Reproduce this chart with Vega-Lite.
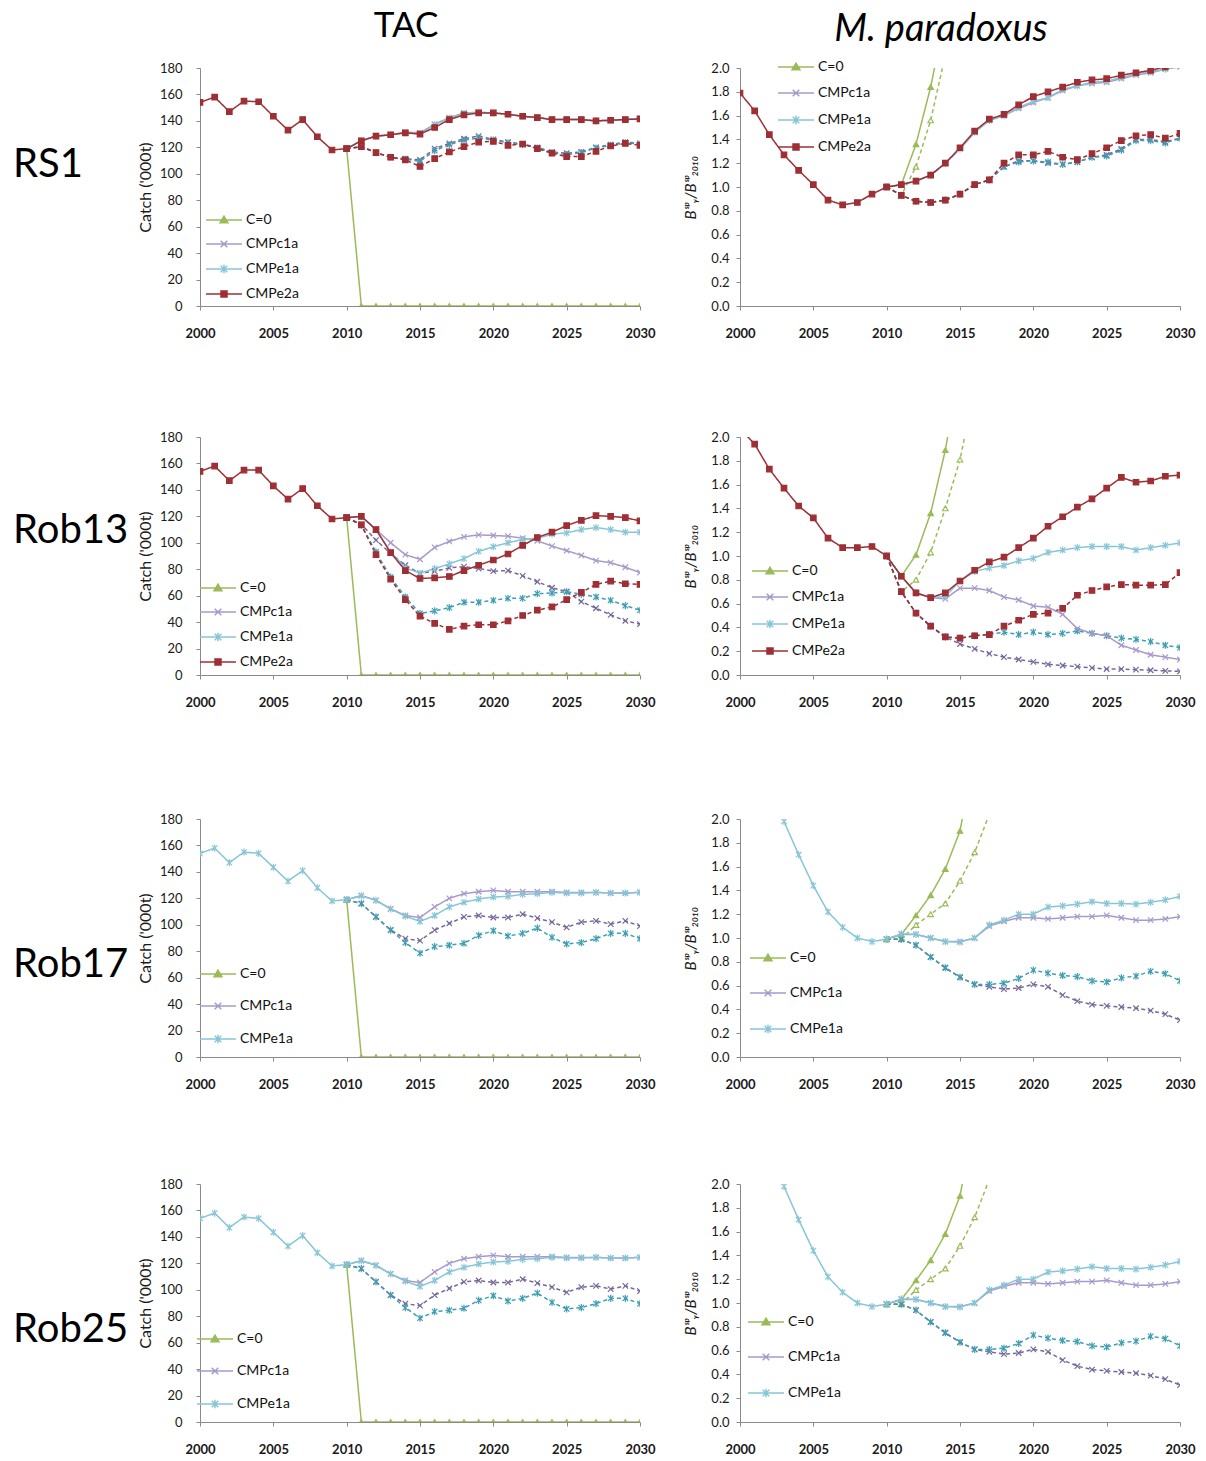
{
"$schema": "https://vega.github.io/schema/vega-lite/v6.json",
"background": "white",
"padding": {"left": 10, "top": 9, "right": 5, "bottom": 5},
"config": {
  "view": {"stroke": null},
  "font": "Lato",
  "axis": {"grid": false, "domainColor": "#8a8a8a", "tickColor": "#8a8a8a", "tickSize": 4, "labelFont": "Lato", "labelFontSize": 13, "labelColor": "#1a1a1a", "labelFlush": false, "titleFont": "Lato", "titleFontSize": 16, "titleFontWeight": "normal", "titleColor": "#1a1a1a", "titlePadding": 6},
  "axisX": {"labelFontWeight": "bold", "labelPadding": 17},
  "legend": {"labelFont": "Lato", "labelFontSize": 14, "labelColor": "#111111", "padding": 0, "symbolSize": 144, "symbolStrokeWidth": 1.5, "symbolOpacity": 1, "labelOffset": 27},
  "title": {"font": "Lato", "fontSize": 35, "fontWeight": "normal", "color": "#000000"}
},
"datasets": {
"tac_rs1": [
{"series":"C=0","year":2010,"value":119},{"series":"C=0","year":2011,"value":0},{"series":"C=0","year":2012,"value":0},{"series":"C=0","year":2013,"value":0},{"series":"C=0","year":2014,"value":0},{"series":"C=0","year":2015,"value":0},{"series":"C=0","year":2016,"value":0},{"series":"C=0","year":2017,"value":0},{"series":"C=0","year":2018,"value":0},{"series":"C=0","year":2019,"value":0},{"series":"C=0","year":2020,"value":0},{"series":"C=0","year":2021,"value":0},{"series":"C=0","year":2022,"value":0},{"series":"C=0","year":2023,"value":0},{"series":"C=0","year":2024,"value":0},{"series":"C=0","year":2025,"value":0},{"series":"C=0","year":2026,"value":0},{"series":"C=0","year":2027,"value":0},{"series":"C=0","year":2028,"value":0},{"series":"C=0","year":2029,"value":0},{"series":"C=0","year":2030,"value":0},
{"series":"CMPc1a low","year":2010,"value":119},{"series":"CMPc1a low","year":2011,"value":120.5},{"series":"CMPc1a low","year":2012,"value":116},{"series":"CMPc1a low","year":2013,"value":112.5},{"series":"CMPc1a low","year":2014,"value":111.5},{"series":"CMPc1a low","year":2015,"value":110.5},{"series":"CMPc1a low","year":2016,"value":119},{"series":"CMPc1a low","year":2017,"value":123},{"series":"CMPc1a low","year":2018,"value":126.5},{"series":"CMPc1a low","year":2019,"value":128.5},{"series":"CMPc1a low","year":2020,"value":126},{"series":"CMPc1a low","year":2021,"value":124},{"series":"CMPc1a low","year":2022,"value":122.5},{"series":"CMPc1a low","year":2023,"value":120},{"series":"CMPc1a low","year":2024,"value":116.5},{"series":"CMPc1a low","year":2025,"value":115.5},{"series":"CMPc1a low","year":2026,"value":116.5},{"series":"CMPc1a low","year":2027,"value":120},{"series":"CMPc1a low","year":2028,"value":122},{"series":"CMPc1a low","year":2029,"value":124},{"series":"CMPc1a low","year":2030,"value":123},
{"series":"CMPe1a low","year":2010,"value":119},{"series":"CMPe1a low","year":2011,"value":120.5},{"series":"CMPe1a low","year":2012,"value":116},{"series":"CMPe1a low","year":2013,"value":112.5},{"series":"CMPe1a low","year":2014,"value":111},{"series":"CMPe1a low","year":2015,"value":109.5},{"series":"CMPe1a low","year":2016,"value":117.5},{"series":"CMPe1a low","year":2017,"value":122},{"series":"CMPe1a low","year":2018,"value":125.5},{"series":"CMPe1a low","year":2019,"value":127},{"series":"CMPe1a low","year":2020,"value":125.5},{"series":"CMPe1a low","year":2021,"value":123.5},{"series":"CMPe1a low","year":2022,"value":122},{"series":"CMPe1a low","year":2023,"value":119.5},{"series":"CMPe1a low","year":2024,"value":116},{"series":"CMPe1a low","year":2025,"value":114.5},{"series":"CMPe1a low","year":2026,"value":116},{"series":"CMPe1a low","year":2027,"value":119.5},{"series":"CMPe1a low","year":2028,"value":121.5},{"series":"CMPe1a low","year":2029,"value":123.5},{"series":"CMPe1a low","year":2030,"value":122.5},
{"series":"CMPe2a low","year":2010,"value":119},{"series":"CMPe2a low","year":2011,"value":120.5},{"series":"CMPe2a low","year":2012,"value":116},{"series":"CMPe2a low","year":2013,"value":112.5},{"series":"CMPe2a low","year":2014,"value":110.5},{"series":"CMPe2a low","year":2015,"value":105.5},{"series":"CMPe2a low","year":2016,"value":111.5},{"series":"CMPe2a low","year":2017,"value":116.5},{"series":"CMPe2a low","year":2018,"value":120.5},{"series":"CMPe2a low","year":2019,"value":124},{"series":"CMPe2a low","year":2020,"value":124.5},{"series":"CMPe2a low","year":2021,"value":121.5},{"series":"CMPe2a low","year":2022,"value":122.5},{"series":"CMPe2a low","year":2023,"value":119},{"series":"CMPe2a low","year":2024,"value":115.5},{"series":"CMPe2a low","year":2025,"value":113},{"series":"CMPe2a low","year":2026,"value":113},{"series":"CMPe2a low","year":2027,"value":117},{"series":"CMPe2a low","year":2028,"value":121},{"series":"CMPe2a low","year":2029,"value":123},{"series":"CMPe2a low","year":2030,"value":121.5},
{"series":"CMPc1a","year":2010,"value":119},{"series":"CMPc1a","year":2011,"value":125},{"series":"CMPc1a","year":2012,"value":128.5},{"series":"CMPc1a","year":2013,"value":129.5},{"series":"CMPc1a","year":2014,"value":131.5},{"series":"CMPc1a","year":2015,"value":131},{"series":"CMPc1a","year":2016,"value":137.5},{"series":"CMPc1a","year":2017,"value":142.5},{"series":"CMPc1a","year":2018,"value":146},{"series":"CMPc1a","year":2019,"value":146.5},{"series":"CMPc1a","year":2020,"value":146},{"series":"CMPc1a","year":2021,"value":145},{"series":"CMPc1a","year":2022,"value":143.5},{"series":"CMPc1a","year":2023,"value":142.5},{"series":"CMPc1a","year":2024,"value":141},{"series":"CMPc1a","year":2025,"value":141},{"series":"CMPc1a","year":2026,"value":141},{"series":"CMPc1a","year":2027,"value":140},{"series":"CMPc1a","year":2028,"value":140.5},{"series":"CMPc1a","year":2029,"value":141},{"series":"CMPc1a","year":2030,"value":141.5},
{"series":"CMPe1a","year":2010,"value":119},{"series":"CMPe1a","year":2011,"value":125},{"series":"CMPe1a","year":2012,"value":128.5},{"series":"CMPe1a","year":2013,"value":129.5},{"series":"CMPe1a","year":2014,"value":131},{"series":"CMPe1a","year":2015,"value":130.5},{"series":"CMPe1a","year":2016,"value":137},{"series":"CMPe1a","year":2017,"value":142},{"series":"CMPe1a","year":2018,"value":145.5},{"series":"CMPe1a","year":2019,"value":146.5},{"series":"CMPe1a","year":2020,"value":146},{"series":"CMPe1a","year":2021,"value":145},{"series":"CMPe1a","year":2022,"value":143.5},{"series":"CMPe1a","year":2023,"value":142.5},{"series":"CMPe1a","year":2024,"value":141},{"series":"CMPe1a","year":2025,"value":141},{"series":"CMPe1a","year":2026,"value":141},{"series":"CMPe1a","year":2027,"value":140},{"series":"CMPe1a","year":2028,"value":140.5},{"series":"CMPe1a","year":2029,"value":141},{"series":"CMPe1a","year":2030,"value":141.5},
{"series":"CMPe2a","year":2000,"value":154},{"series":"CMPe2a","year":2001,"value":158},{"series":"CMPe2a","year":2002,"value":147},{"series":"CMPe2a","year":2003,"value":155},{"series":"CMPe2a","year":2004,"value":154.5},{"series":"CMPe2a","year":2005,"value":143.5},{"series":"CMPe2a","year":2006,"value":133},{"series":"CMPe2a","year":2007,"value":141},{"series":"CMPe2a","year":2008,"value":128},{"series":"CMPe2a","year":2009,"value":118},{"series":"CMPe2a","year":2010,"value":119},{"series":"CMPe2a","year":2011,"value":125},{"series":"CMPe2a","year":2012,"value":128.5},{"series":"CMPe2a","year":2013,"value":129.5},{"series":"CMPe2a","year":2014,"value":131},{"series":"CMPe2a","year":2015,"value":130},{"series":"CMPe2a","year":2016,"value":135},{"series":"CMPe2a","year":2017,"value":141},{"series":"CMPe2a","year":2018,"value":144.5},{"series":"CMPe2a","year":2019,"value":146},{"series":"CMPe2a","year":2020,"value":146},{"series":"CMPe2a","year":2021,"value":145},{"series":"CMPe2a","year":2022,"value":143.5},{"series":"CMPe2a","year":2023,"value":142.5},{"series":"CMPe2a","year":2024,"value":141},{"series":"CMPe2a","year":2025,"value":141},{"series":"CMPe2a","year":2026,"value":141},{"series":"CMPe2a","year":2027,"value":140},{"series":"CMPe2a","year":2028,"value":140.5},{"series":"CMPe2a","year":2029,"value":141},{"series":"CMPe2a","year":2030,"value":141.5}
],
"bsp_rs1": [
{"series":"C=0","year":2010,"value":1.00},{"series":"C=0","year":2011,"value":1.02},{"series":"C=0","year":2012,"value":1.36},{"series":"C=0","year":2013,"value":1.84},{"series":"C=0","year":2014,"value":2.45},
{"series":"C=0 low","year":2010,"value":1.00},{"series":"C=0 low","year":2011,"value":0.93},{"series":"C=0 low","year":2012,"value":1.17},{"series":"C=0 low","year":2013,"value":1.56},{"series":"C=0 low","year":2014,"value":2.11},
{"series":"CMPc1a low","year":2010,"value":1.00},{"series":"CMPc1a low","year":2011,"value":0.93},{"series":"CMPc1a low","year":2012,"value":0.88},{"series":"CMPc1a low","year":2013,"value":0.87},{"series":"CMPc1a low","year":2014,"value":0.89},{"series":"CMPc1a low","year":2015,"value":0.94},{"series":"CMPc1a low","year":2016,"value":1.02},{"series":"CMPc1a low","year":2017,"value":1.06},{"series":"CMPc1a low","year":2018,"value":1.17},{"series":"CMPc1a low","year":2019,"value":1.22},{"series":"CMPc1a low","year":2020,"value":1.22},{"series":"CMPc1a low","year":2021,"value":1.20},{"series":"CMPc1a low","year":2022,"value":1.19},{"series":"CMPc1a low","year":2023,"value":1.21},{"series":"CMPc1a low","year":2024,"value":1.25},{"series":"CMPc1a low","year":2025,"value":1.27},{"series":"CMPc1a low","year":2026,"value":1.32},{"series":"CMPc1a low","year":2027,"value":1.40},{"series":"CMPc1a low","year":2028,"value":1.40},{"series":"CMPc1a low","year":2029,"value":1.38},{"series":"CMPc1a low","year":2030,"value":1.41},
{"series":"CMPe1a low","year":2010,"value":1.00},{"series":"CMPe1a low","year":2011,"value":0.93},{"series":"CMPe1a low","year":2012,"value":0.88},{"series":"CMPe1a low","year":2013,"value":0.87},{"series":"CMPe1a low","year":2014,"value":0.89},{"series":"CMPe1a low","year":2015,"value":0.94},{"series":"CMPe1a low","year":2016,"value":1.02},{"series":"CMPe1a low","year":2017,"value":1.06},{"series":"CMPe1a low","year":2018,"value":1.17},{"series":"CMPe1a low","year":2019,"value":1.21},{"series":"CMPe1a low","year":2020,"value":1.22},{"series":"CMPe1a low","year":2021,"value":1.21},{"series":"CMPe1a low","year":2022,"value":1.19},{"series":"CMPe1a low","year":2023,"value":1.21},{"series":"CMPe1a low","year":2024,"value":1.25},{"series":"CMPe1a low","year":2025,"value":1.26},{"series":"CMPe1a low","year":2026,"value":1.31},{"series":"CMPe1a low","year":2027,"value":1.39},{"series":"CMPe1a low","year":2028,"value":1.39},{"series":"CMPe1a low","year":2029,"value":1.37},{"series":"CMPe1a low","year":2030,"value":1.41},
{"series":"CMPe2a low","year":2010,"value":1.00},{"series":"CMPe2a low","year":2011,"value":0.93},{"series":"CMPe2a low","year":2012,"value":0.88},{"series":"CMPe2a low","year":2013,"value":0.87},{"series":"CMPe2a low","year":2014,"value":0.89},{"series":"CMPe2a low","year":2015,"value":0.94},{"series":"CMPe2a low","year":2016,"value":1.02},{"series":"CMPe2a low","year":2017,"value":1.06},{"series":"CMPe2a low","year":2018,"value":1.20},{"series":"CMPe2a low","year":2019,"value":1.27},{"series":"CMPe2a low","year":2020,"value":1.27},{"series":"CMPe2a low","year":2021,"value":1.30},{"series":"CMPe2a low","year":2022,"value":1.25},{"series":"CMPe2a low","year":2023,"value":1.23},{"series":"CMPe2a low","year":2024,"value":1.28},{"series":"CMPe2a low","year":2025,"value":1.33},{"series":"CMPe2a low","year":2026,"value":1.39},{"series":"CMPe2a low","year":2027,"value":1.43},{"series":"CMPe2a low","year":2028,"value":1.44},{"series":"CMPe2a low","year":2029,"value":1.41},{"series":"CMPe2a low","year":2030,"value":1.45},
{"series":"CMPc1a","year":2010,"value":1.00},{"series":"CMPc1a","year":2011,"value":1.02},{"series":"CMPc1a","year":2012,"value":1.05},{"series":"CMPc1a","year":2013,"value":1.10},{"series":"CMPc1a","year":2014,"value":1.20},{"series":"CMPc1a","year":2015,"value":1.32},{"series":"CMPc1a","year":2016,"value":1.46},{"series":"CMPc1a","year":2017,"value":1.56},{"series":"CMPc1a","year":2018,"value":1.60},{"series":"CMPc1a","year":2019,"value":1.66},{"series":"CMPc1a","year":2020,"value":1.71},{"series":"CMPc1a","year":2021,"value":1.75},{"series":"CMPc1a","year":2022,"value":1.81},{"series":"CMPc1a","year":2023,"value":1.85},{"series":"CMPc1a","year":2024,"value":1.87},{"series":"CMPc1a","year":2025,"value":1.88},{"series":"CMPc1a","year":2026,"value":1.91},{"series":"CMPc1a","year":2027,"value":1.94},{"series":"CMPc1a","year":2028,"value":1.96},{"series":"CMPc1a","year":2029,"value":1.99},{"series":"CMPc1a","year":2030,"value":2.01},
{"series":"CMPe1a","year":2010,"value":1.00},{"series":"CMPe1a","year":2011,"value":1.02},{"series":"CMPe1a","year":2012,"value":1.05},{"series":"CMPe1a","year":2013,"value":1.10},{"series":"CMPe1a","year":2014,"value":1.20},{"series":"CMPe1a","year":2015,"value":1.32},{"series":"CMPe1a","year":2016,"value":1.46},{"series":"CMPe1a","year":2017,"value":1.56},{"series":"CMPe1a","year":2018,"value":1.60},{"series":"CMPe1a","year":2019,"value":1.67},{"series":"CMPe1a","year":2020,"value":1.72},{"series":"CMPe1a","year":2021,"value":1.75},{"series":"CMPe1a","year":2022,"value":1.82},{"series":"CMPe1a","year":2023,"value":1.85},{"series":"CMPe1a","year":2024,"value":1.88},{"series":"CMPe1a","year":2025,"value":1.89},{"series":"CMPe1a","year":2026,"value":1.92},{"series":"CMPe1a","year":2027,"value":1.95},{"series":"CMPe1a","year":2028,"value":1.97},{"series":"CMPe1a","year":2029,"value":1.99},{"series":"CMPe1a","year":2030,"value":2.02},
{"series":"CMPe2a","year":2000,"value":1.79},{"series":"CMPe2a","year":2001,"value":1.64},{"series":"CMPe2a","year":2002,"value":1.44},{"series":"CMPe2a","year":2003,"value":1.27},{"series":"CMPe2a","year":2004,"value":1.14},{"series":"CMPe2a","year":2005,"value":1.02},{"series":"CMPe2a","year":2006,"value":0.89},{"series":"CMPe2a","year":2007,"value":0.85},{"series":"CMPe2a","year":2008,"value":0.87},{"series":"CMPe2a","year":2009,"value":0.94},{"series":"CMPe2a","year":2010,"value":1.00},{"series":"CMPe2a","year":2011,"value":1.02},{"series":"CMPe2a","year":2012,"value":1.05},{"series":"CMPe2a","year":2013,"value":1.10},{"series":"CMPe2a","year":2014,"value":1.20},{"series":"CMPe2a","year":2015,"value":1.33},{"series":"CMPe2a","year":2016,"value":1.47},{"series":"CMPe2a","year":2017,"value":1.57},{"series":"CMPe2a","year":2018,"value":1.61},{"series":"CMPe2a","year":2019,"value":1.69},{"series":"CMPe2a","year":2020,"value":1.76},{"series":"CMPe2a","year":2021,"value":1.80},{"series":"CMPe2a","year":2022,"value":1.84},{"series":"CMPe2a","year":2023,"value":1.88},{"series":"CMPe2a","year":2024,"value":1.90},{"series":"CMPe2a","year":2025,"value":1.91},{"series":"CMPe2a","year":2026,"value":1.94},{"series":"CMPe2a","year":2027,"value":1.96},{"series":"CMPe2a","year":2028,"value":1.98},{"series":"CMPe2a","year":2029,"value":2.01},{"series":"CMPe2a","year":2030,"value":2.04}
],
"tac_r13": [
{"series":"C=0","year":2010,"value":119},{"series":"C=0","year":2011,"value":0},{"series":"C=0","year":2012,"value":0},{"series":"C=0","year":2013,"value":0},{"series":"C=0","year":2014,"value":0},{"series":"C=0","year":2015,"value":0},{"series":"C=0","year":2016,"value":0},{"series":"C=0","year":2017,"value":0},{"series":"C=0","year":2018,"value":0},{"series":"C=0","year":2019,"value":0},{"series":"C=0","year":2020,"value":0},{"series":"C=0","year":2021,"value":0},{"series":"C=0","year":2022,"value":0},{"series":"C=0","year":2023,"value":0},{"series":"C=0","year":2024,"value":0},{"series":"C=0","year":2025,"value":0},{"series":"C=0","year":2026,"value":0},{"series":"C=0","year":2027,"value":0},{"series":"C=0","year":2028,"value":0},{"series":"C=0","year":2029,"value":0},{"series":"C=0","year":2030,"value":0},
{"series":"CMPc1a low","year":2010,"value":119},{"series":"CMPc1a low","year":2011,"value":114},{"series":"CMPc1a low","year":2012,"value":102},{"series":"CMPc1a low","year":2013,"value":92},{"series":"CMPc1a low","year":2014,"value":83},{"series":"CMPc1a low","year":2015,"value":77},{"series":"CMPc1a low","year":2016,"value":78.5},{"series":"CMPc1a low","year":2017,"value":81},{"series":"CMPc1a low","year":2018,"value":82},{"series":"CMPc1a low","year":2019,"value":80.5},{"series":"CMPc1a low","year":2020,"value":78.5},{"series":"CMPc1a low","year":2021,"value":79},{"series":"CMPc1a low","year":2022,"value":75},{"series":"CMPc1a low","year":2023,"value":70.5},{"series":"CMPc1a low","year":2024,"value":66},{"series":"CMPc1a low","year":2025,"value":63},{"series":"CMPc1a low","year":2026,"value":55.5},{"series":"CMPc1a low","year":2027,"value":50.5},{"series":"CMPc1a low","year":2028,"value":45.5},{"series":"CMPc1a low","year":2029,"value":41},{"series":"CMPc1a low","year":2030,"value":38.5},
{"series":"CMPe1a low","year":2010,"value":119},{"series":"CMPe1a low","year":2011,"value":113.5},{"series":"CMPe1a low","year":2012,"value":93},{"series":"CMPe1a low","year":2013,"value":74},{"series":"CMPe1a low","year":2014,"value":59},{"series":"CMPe1a low","year":2015,"value":46.5},{"series":"CMPe1a low","year":2016,"value":48.5},{"series":"CMPe1a low","year":2017,"value":51},{"series":"CMPe1a low","year":2018,"value":55},{"series":"CMPe1a low","year":2019,"value":55},{"series":"CMPe1a low","year":2020,"value":56.5},{"series":"CMPe1a low","year":2021,"value":58},{"series":"CMPe1a low","year":2022,"value":58},{"series":"CMPe1a low","year":2023,"value":61.5},{"series":"CMPe1a low","year":2024,"value":62},{"series":"CMPe1a low","year":2025,"value":63},{"series":"CMPe1a low","year":2026,"value":61},{"series":"CMPe1a low","year":2027,"value":59},{"series":"CMPe1a low","year":2028,"value":56.5},{"series":"CMPe1a low","year":2029,"value":52.5},{"series":"CMPe1a low","year":2030,"value":49},
{"series":"CMPe2a low","year":2010,"value":119},{"series":"CMPe2a low","year":2011,"value":113.5},{"series":"CMPe2a low","year":2012,"value":91},{"series":"CMPe2a low","year":2013,"value":72.5},{"series":"CMPe2a low","year":2014,"value":57},{"series":"CMPe2a low","year":2015,"value":44.5},{"series":"CMPe2a low","year":2016,"value":39},{"series":"CMPe2a low","year":2017,"value":34.5},{"series":"CMPe2a low","year":2018,"value":37},{"series":"CMPe2a low","year":2019,"value":38},{"series":"CMPe2a low","year":2020,"value":38},{"series":"CMPe2a low","year":2021,"value":41},{"series":"CMPe2a low","year":2022,"value":45},{"series":"CMPe2a low","year":2023,"value":49},{"series":"CMPe2a low","year":2024,"value":51.5},{"series":"CMPe2a low","year":2025,"value":57},{"series":"CMPe2a low","year":2026,"value":62.5},{"series":"CMPe2a low","year":2027,"value":68.5},{"series":"CMPe2a low","year":2028,"value":71},{"series":"CMPe2a low","year":2029,"value":69},{"series":"CMPe2a low","year":2030,"value":68.5},
{"series":"CMPc1a","year":2010,"value":119},{"series":"CMPc1a","year":2011,"value":120},{"series":"CMPc1a","year":2012,"value":110},{"series":"CMPc1a","year":2013,"value":100},{"series":"CMPc1a","year":2014,"value":91},{"series":"CMPc1a","year":2015,"value":87.5},{"series":"CMPc1a","year":2016,"value":96.5},{"series":"CMPc1a","year":2017,"value":101},{"series":"CMPc1a","year":2018,"value":104.5},{"series":"CMPc1a","year":2019,"value":106},{"series":"CMPc1a","year":2020,"value":105.5},{"series":"CMPc1a","year":2021,"value":105},{"series":"CMPc1a","year":2022,"value":103.5},{"series":"CMPc1a","year":2023,"value":101.5},{"series":"CMPc1a","year":2024,"value":97.5},{"series":"CMPc1a","year":2025,"value":94},{"series":"CMPc1a","year":2026,"value":90.5},{"series":"CMPc1a","year":2027,"value":86.5},{"series":"CMPc1a","year":2028,"value":85},{"series":"CMPc1a","year":2029,"value":81.5},{"series":"CMPc1a","year":2030,"value":77.5},
{"series":"CMPe1a","year":2010,"value":119},{"series":"CMPe1a","year":2011,"value":120},{"series":"CMPe1a","year":2012,"value":110},{"series":"CMPe1a","year":2013,"value":93},{"series":"CMPe1a","year":2014,"value":81},{"series":"CMPe1a","year":2015,"value":77},{"series":"CMPe1a","year":2016,"value":80.5},{"series":"CMPe1a","year":2017,"value":84},{"series":"CMPe1a","year":2018,"value":88},{"series":"CMPe1a","year":2019,"value":93.5},{"series":"CMPe1a","year":2020,"value":97},{"series":"CMPe1a","year":2021,"value":100},{"series":"CMPe1a","year":2022,"value":102.5},{"series":"CMPe1a","year":2023,"value":103.5},{"series":"CMPe1a","year":2024,"value":106.5},{"series":"CMPe1a","year":2025,"value":107.5},{"series":"CMPe1a","year":2026,"value":110},{"series":"CMPe1a","year":2027,"value":111.5},{"series":"CMPe1a","year":2028,"value":110},{"series":"CMPe1a","year":2029,"value":108},{"series":"CMPe1a","year":2030,"value":108},
{"series":"CMPe2a","year":2000,"value":154},{"series":"CMPe2a","year":2001,"value":158},{"series":"CMPe2a","year":2002,"value":147},{"series":"CMPe2a","year":2003,"value":155},{"series":"CMPe2a","year":2004,"value":155},{"series":"CMPe2a","year":2005,"value":143},{"series":"CMPe2a","year":2006,"value":133},{"series":"CMPe2a","year":2007,"value":141},{"series":"CMPe2a","year":2008,"value":128},{"series":"CMPe2a","year":2009,"value":118},{"series":"CMPe2a","year":2010,"value":119},{"series":"CMPe2a","year":2011,"value":120},{"series":"CMPe2a","year":2012,"value":110},{"series":"CMPe2a","year":2013,"value":92.5},{"series":"CMPe2a","year":2014,"value":79},{"series":"CMPe2a","year":2015,"value":73},{"series":"CMPe2a","year":2016,"value":73.5},{"series":"CMPe2a","year":2017,"value":74.5},{"series":"CMPe2a","year":2018,"value":79},{"series":"CMPe2a","year":2019,"value":83},{"series":"CMPe2a","year":2020,"value":87},{"series":"CMPe2a","year":2021,"value":91.5},{"series":"CMPe2a","year":2022,"value":98},{"series":"CMPe2a","year":2023,"value":104},{"series":"CMPe2a","year":2024,"value":108},{"series":"CMPe2a","year":2025,"value":113},{"series":"CMPe2a","year":2026,"value":117},{"series":"CMPe2a","year":2027,"value":120.5},{"series":"CMPe2a","year":2028,"value":120},{"series":"CMPe2a","year":2029,"value":119},{"series":"CMPe2a","year":2030,"value":116.5}
],
"bsp_r13": [
{"series":"C=0","year":2010,"value":1.00},{"series":"C=0","year":2011,"value":0.83},{"series":"C=0","year":2012,"value":1.01},{"series":"C=0","year":2013,"value":1.36},{"series":"C=0","year":2014,"value":1.89},{"series":"C=0","year":2015,"value":2.6},
{"series":"C=0 low","year":2010,"value":1.00},{"series":"C=0 low","year":2011,"value":0.70},{"series":"C=0 low","year":2012,"value":0.80},{"series":"C=0 low","year":2013,"value":1.03},{"series":"C=0 low","year":2014,"value":1.40},{"series":"C=0 low","year":2015,"value":1.81},{"series":"C=0 low","year":2016,"value":2.4},
{"series":"CMPc1a low","year":2010,"value":1.00},{"series":"CMPc1a low","year":2011,"value":0.70},{"series":"CMPc1a low","year":2012,"value":0.52},{"series":"CMPc1a low","year":2013,"value":0.41},{"series":"CMPc1a low","year":2014,"value":0.32},{"series":"CMPc1a low","year":2015,"value":0.26},{"series":"CMPc1a low","year":2016,"value":0.22},{"series":"CMPc1a low","year":2017,"value":0.18},{"series":"CMPc1a low","year":2018,"value":0.15},{"series":"CMPc1a low","year":2019,"value":0.13},{"series":"CMPc1a low","year":2020,"value":0.11},{"series":"CMPc1a low","year":2021,"value":0.09},{"series":"CMPc1a low","year":2022,"value":0.08},{"series":"CMPc1a low","year":2023,"value":0.07},{"series":"CMPc1a low","year":2024,"value":0.06},{"series":"CMPc1a low","year":2025,"value":0.05},{"series":"CMPc1a low","year":2026,"value":0.05},{"series":"CMPc1a low","year":2027,"value":0.045},{"series":"CMPc1a low","year":2028,"value":0.04},{"series":"CMPc1a low","year":2029,"value":0.035},{"series":"CMPc1a low","year":2030,"value":0.03},
{"series":"CMPe1a low","year":2010,"value":1.00},{"series":"CMPe1a low","year":2011,"value":0.70},{"series":"CMPe1a low","year":2012,"value":0.52},{"series":"CMPe1a low","year":2013,"value":0.41},{"series":"CMPe1a low","year":2014,"value":0.32},{"series":"CMPe1a low","year":2015,"value":0.31},{"series":"CMPe1a low","year":2016,"value":0.33},{"series":"CMPe1a low","year":2017,"value":0.34},{"series":"CMPe1a low","year":2018,"value":0.36},{"series":"CMPe1a low","year":2019,"value":0.34},{"series":"CMPe1a low","year":2020,"value":0.36},{"series":"CMPe1a low","year":2021,"value":0.34},{"series":"CMPe1a low","year":2022,"value":0.35},{"series":"CMPe1a low","year":2023,"value":0.37},{"series":"CMPe1a low","year":2024,"value":0.35},{"series":"CMPe1a low","year":2025,"value":0.33},{"series":"CMPe1a low","year":2026,"value":0.31},{"series":"CMPe1a low","year":2027,"value":0.30},{"series":"CMPe1a low","year":2028,"value":0.28},{"series":"CMPe1a low","year":2029,"value":0.25},{"series":"CMPe1a low","year":2030,"value":0.23},
{"series":"CMPe2a low","year":2010,"value":1.00},{"series":"CMPe2a low","year":2011,"value":0.70},{"series":"CMPe2a low","year":2012,"value":0.52},{"series":"CMPe2a low","year":2013,"value":0.41},{"series":"CMPe2a low","year":2014,"value":0.32},{"series":"CMPe2a low","year":2015,"value":0.31},{"series":"CMPe2a low","year":2016,"value":0.33},{"series":"CMPe2a low","year":2017,"value":0.34},{"series":"CMPe2a low","year":2018,"value":0.41},{"series":"CMPe2a low","year":2019,"value":0.46},{"series":"CMPe2a low","year":2020,"value":0.51},{"series":"CMPe2a low","year":2021,"value":0.52},{"series":"CMPe2a low","year":2022,"value":0.56},{"series":"CMPe2a low","year":2023,"value":0.67},{"series":"CMPe2a low","year":2024,"value":0.71},{"series":"CMPe2a low","year":2025,"value":0.74},{"series":"CMPe2a low","year":2026,"value":0.76},{"series":"CMPe2a low","year":2027,"value":0.755},{"series":"CMPe2a low","year":2028,"value":0.755},{"series":"CMPe2a low","year":2029,"value":0.76},{"series":"CMPe2a low","year":2030,"value":0.86},
{"series":"CMPc1a","year":2010,"value":1.00},{"series":"CMPc1a","year":2011,"value":0.83},{"series":"CMPc1a","year":2012,"value":0.69},{"series":"CMPc1a","year":2013,"value":0.65},{"series":"CMPc1a","year":2014,"value":0.64},{"series":"CMPc1a","year":2015,"value":0.73},{"series":"CMPc1a","year":2016,"value":0.73},{"series":"CMPc1a","year":2017,"value":0.71},{"series":"CMPc1a","year":2018,"value":0.655},{"series":"CMPc1a","year":2019,"value":0.63},{"series":"CMPc1a","year":2020,"value":0.58},{"series":"CMPc1a","year":2021,"value":0.57},{"series":"CMPc1a","year":2022,"value":0.51},{"series":"CMPc1a","year":2023,"value":0.39},{"series":"CMPc1a","year":2024,"value":0.35},{"series":"CMPc1a","year":2025,"value":0.33},{"series":"CMPc1a","year":2026,"value":0.25},{"series":"CMPc1a","year":2027,"value":0.21},{"series":"CMPc1a","year":2028,"value":0.17},{"series":"CMPc1a","year":2029,"value":0.15},{"series":"CMPc1a","year":2030,"value":0.13},
{"series":"CMPe1a","year":2010,"value":1.00},{"series":"CMPe1a","year":2011,"value":0.83},{"series":"CMPe1a","year":2012,"value":0.69},{"series":"CMPe1a","year":2013,"value":0.65},{"series":"CMPe1a","year":2014,"value":0.66},{"series":"CMPe1a","year":2015,"value":0.79},{"series":"CMPe1a","year":2016,"value":0.87},{"series":"CMPe1a","year":2017,"value":0.90},{"series":"CMPe1a","year":2018,"value":0.92},{"series":"CMPe1a","year":2019,"value":0.96},{"series":"CMPe1a","year":2020,"value":0.98},{"series":"CMPe1a","year":2021,"value":1.03},{"series":"CMPe1a","year":2022,"value":1.05},{"series":"CMPe1a","year":2023,"value":1.07},{"series":"CMPe1a","year":2024,"value":1.08},{"series":"CMPe1a","year":2025,"value":1.08},{"series":"CMPe1a","year":2026,"value":1.08},{"series":"CMPe1a","year":2027,"value":1.05},{"series":"CMPe1a","year":2028,"value":1.07},{"series":"CMPe1a","year":2029,"value":1.09},{"series":"CMPe1a","year":2030,"value":1.11},
{"series":"CMPe2a","year":2000,"value":2.07},{"series":"CMPe2a","year":2001,"value":1.94},{"series":"CMPe2a","year":2002,"value":1.73},{"series":"CMPe2a","year":2003,"value":1.57},{"series":"CMPe2a","year":2004,"value":1.42},{"series":"CMPe2a","year":2005,"value":1.32},{"series":"CMPe2a","year":2006,"value":1.15},{"series":"CMPe2a","year":2007,"value":1.07},{"series":"CMPe2a","year":2008,"value":1.07},{"series":"CMPe2a","year":2009,"value":1.08},{"series":"CMPe2a","year":2010,"value":1.00},{"series":"CMPe2a","year":2011,"value":0.83},{"series":"CMPe2a","year":2012,"value":0.69},{"series":"CMPe2a","year":2013,"value":0.65},{"series":"CMPe2a","year":2014,"value":0.69},{"series":"CMPe2a","year":2015,"value":0.79},{"series":"CMPe2a","year":2016,"value":0.88},{"series":"CMPe2a","year":2017,"value":0.95},{"series":"CMPe2a","year":2018,"value":0.99},{"series":"CMPe2a","year":2019,"value":1.07},{"series":"CMPe2a","year":2020,"value":1.15},{"series":"CMPe2a","year":2021,"value":1.25},{"series":"CMPe2a","year":2022,"value":1.33},{"series":"CMPe2a","year":2023,"value":1.41},{"series":"CMPe2a","year":2024,"value":1.48},{"series":"CMPe2a","year":2025,"value":1.57},{"series":"CMPe2a","year":2026,"value":1.66},{"series":"CMPe2a","year":2027,"value":1.62},{"series":"CMPe2a","year":2028,"value":1.63},{"series":"CMPe2a","year":2029,"value":1.67},{"series":"CMPe2a","year":2030,"value":1.68}
],
"tac_r17": [
{"series":"C=0","year":2010,"value":119},{"series":"C=0","year":2011,"value":0},{"series":"C=0","year":2012,"value":0},{"series":"C=0","year":2013,"value":0},{"series":"C=0","year":2014,"value":0},{"series":"C=0","year":2015,"value":0},{"series":"C=0","year":2016,"value":0},{"series":"C=0","year":2017,"value":0},{"series":"C=0","year":2018,"value":0},{"series":"C=0","year":2019,"value":0},{"series":"C=0","year":2020,"value":0},{"series":"C=0","year":2021,"value":0},{"series":"C=0","year":2022,"value":0},{"series":"C=0","year":2023,"value":0},{"series":"C=0","year":2024,"value":0},{"series":"C=0","year":2025,"value":0},{"series":"C=0","year":2026,"value":0},{"series":"C=0","year":2027,"value":0},{"series":"C=0","year":2028,"value":0},{"series":"C=0","year":2029,"value":0},{"series":"C=0","year":2030,"value":0},
{"series":"CMPc1a low","year":2010,"value":119},{"series":"CMPc1a low","year":2011,"value":116},{"series":"CMPc1a low","year":2012,"value":106},{"series":"CMPc1a low","year":2013,"value":96},{"series":"CMPc1a low","year":2014,"value":89.5},{"series":"CMPc1a low","year":2015,"value":88},{"series":"CMPc1a low","year":2016,"value":96},{"series":"CMPc1a low","year":2017,"value":101},{"series":"CMPc1a low","year":2018,"value":106},{"series":"CMPc1a low","year":2019,"value":107},{"series":"CMPc1a low","year":2020,"value":105.5},{"series":"CMPc1a low","year":2021,"value":105.5},{"series":"CMPc1a low","year":2022,"value":108},{"series":"CMPc1a low","year":2023,"value":105},{"series":"CMPc1a low","year":2024,"value":102},{"series":"CMPc1a low","year":2025,"value":98},{"series":"CMPc1a low","year":2026,"value":102},{"series":"CMPc1a low","year":2027,"value":103},{"series":"CMPc1a low","year":2028,"value":100.5},{"series":"CMPc1a low","year":2029,"value":103},{"series":"CMPc1a low","year":2030,"value":99},
{"series":"CMPe1a low","year":2010,"value":119},{"series":"CMPe1a low","year":2011,"value":116},{"series":"CMPe1a low","year":2012,"value":106},{"series":"CMPe1a low","year":2013,"value":96},{"series":"CMPe1a low","year":2014,"value":86.5},{"series":"CMPe1a low","year":2015,"value":78.5},{"series":"CMPe1a low","year":2016,"value":83.5},{"series":"CMPe1a low","year":2017,"value":84.5},{"series":"CMPe1a low","year":2018,"value":86},{"series":"CMPe1a low","year":2019,"value":92},{"series":"CMPe1a low","year":2020,"value":95.5},{"series":"CMPe1a low","year":2021,"value":91.5},{"series":"CMPe1a low","year":2022,"value":93.5},{"series":"CMPe1a low","year":2023,"value":97.5},{"series":"CMPe1a low","year":2024,"value":90.5},{"series":"CMPe1a low","year":2025,"value":85.5},{"series":"CMPe1a low","year":2026,"value":86.5},{"series":"CMPe1a low","year":2027,"value":89.5},{"series":"CMPe1a low","year":2028,"value":93.5},{"series":"CMPe1a low","year":2029,"value":93.5},{"series":"CMPe1a low","year":2030,"value":89.5},
{"series":"CMPc1a","year":2010,"value":119},{"series":"CMPc1a","year":2011,"value":122},{"series":"CMPc1a","year":2012,"value":118.5},{"series":"CMPc1a","year":2013,"value":112},{"series":"CMPc1a","year":2014,"value":107},{"series":"CMPc1a","year":2015,"value":105.5},{"series":"CMPc1a","year":2016,"value":113.5},{"series":"CMPc1a","year":2017,"value":120},{"series":"CMPc1a","year":2018,"value":123.5},{"series":"CMPc1a","year":2019,"value":125},{"series":"CMPc1a","year":2020,"value":126},{"series":"CMPc1a","year":2021,"value":125},{"series":"CMPc1a","year":2022,"value":125},{"series":"CMPc1a","year":2023,"value":125},{"series":"CMPc1a","year":2024,"value":125},{"series":"CMPc1a","year":2025,"value":124.5},{"series":"CMPc1a","year":2026,"value":124.5},{"series":"CMPc1a","year":2027,"value":124.5},{"series":"CMPc1a","year":2028,"value":124},{"series":"CMPc1a","year":2029,"value":124},{"series":"CMPc1a","year":2030,"value":124.5},
{"series":"CMPe1a","year":2000,"value":154},{"series":"CMPe1a","year":2001,"value":158},{"series":"CMPe1a","year":2002,"value":147},{"series":"CMPe1a","year":2003,"value":155},{"series":"CMPe1a","year":2004,"value":154},{"series":"CMPe1a","year":2005,"value":143.5},{"series":"CMPe1a","year":2006,"value":133},{"series":"CMPe1a","year":2007,"value":141},{"series":"CMPe1a","year":2008,"value":128},{"series":"CMPe1a","year":2009,"value":118},{"series":"CMPe1a","year":2010,"value":119},{"series":"CMPe1a","year":2011,"value":122},{"series":"CMPe1a","year":2012,"value":118.5},{"series":"CMPe1a","year":2013,"value":112},{"series":"CMPe1a","year":2014,"value":106.5},{"series":"CMPe1a","year":2015,"value":102.5},{"series":"CMPe1a","year":2016,"value":107},{"series":"CMPe1a","year":2017,"value":113.5},{"series":"CMPe1a","year":2018,"value":117},{"series":"CMPe1a","year":2019,"value":119.5},{"series":"CMPe1a","year":2020,"value":121},{"series":"CMPe1a","year":2021,"value":121.5},{"series":"CMPe1a","year":2022,"value":123},{"series":"CMPe1a","year":2023,"value":123.5},{"series":"CMPe1a","year":2024,"value":124.5},{"series":"CMPe1a","year":2025,"value":124},{"series":"CMPe1a","year":2026,"value":124},{"series":"CMPe1a","year":2027,"value":124.5},{"series":"CMPe1a","year":2028,"value":124},{"series":"CMPe1a","year":2029,"value":124},{"series":"CMPe1a","year":2030,"value":124.5}
],
"bsp_r17": [
{"series":"C=0","year":2010,"value":0.99},{"series":"C=0","year":2011,"value":1.03},{"series":"C=0","year":2012,"value":1.19},{"series":"C=0","year":2013,"value":1.36},{"series":"C=0","year":2014,"value":1.58},{"series":"C=0","year":2015,"value":1.90},{"series":"C=0","year":2016,"value":2.55},
{"series":"C=0 low","year":2010,"value":0.99},{"series":"C=0 low","year":2011,"value":0.99},{"series":"C=0 low","year":2012,"value":1.11},{"series":"C=0 low","year":2013,"value":1.20},{"series":"C=0 low","year":2014,"value":1.29},{"series":"C=0 low","year":2015,"value":1.48},{"series":"C=0 low","year":2016,"value":1.72},{"series":"C=0 low","year":2017,"value":2.04},
{"series":"CMPc1a low","year":2010,"value":0.99},{"series":"CMPc1a low","year":2011,"value":0.99},{"series":"CMPc1a low","year":2012,"value":0.94},{"series":"CMPc1a low","year":2013,"value":0.84},{"series":"CMPc1a low","year":2014,"value":0.75},{"series":"CMPc1a low","year":2015,"value":0.67},{"series":"CMPc1a low","year":2016,"value":0.61},{"series":"CMPc1a low","year":2017,"value":0.59},{"series":"CMPc1a low","year":2018,"value":0.57},{"series":"CMPc1a low","year":2019,"value":0.58},{"series":"CMPc1a low","year":2020,"value":0.61},{"series":"CMPc1a low","year":2021,"value":0.59},{"series":"CMPc1a low","year":2022,"value":0.52},{"series":"CMPc1a low","year":2023,"value":0.47},{"series":"CMPc1a low","year":2024,"value":0.44},{"series":"CMPc1a low","year":2025,"value":0.43},{"series":"CMPc1a low","year":2026,"value":0.42},{"series":"CMPc1a low","year":2027,"value":0.41},{"series":"CMPc1a low","year":2028,"value":0.39},{"series":"CMPc1a low","year":2029,"value":0.36},{"series":"CMPc1a low","year":2030,"value":0.31},
{"series":"CMPe1a low","year":2010,"value":0.99},{"series":"CMPe1a low","year":2011,"value":0.99},{"series":"CMPe1a low","year":2012,"value":0.94},{"series":"CMPe1a low","year":2013,"value":0.84},{"series":"CMPe1a low","year":2014,"value":0.75},{"series":"CMPe1a low","year":2015,"value":0.67},{"series":"CMPe1a low","year":2016,"value":0.61},{"series":"CMPe1a low","year":2017,"value":0.61},{"series":"CMPe1a low","year":2018,"value":0.62},{"series":"CMPe1a low","year":2019,"value":0.66},{"series":"CMPe1a low","year":2020,"value":0.73},{"series":"CMPe1a low","year":2021,"value":0.705},{"series":"CMPe1a low","year":2022,"value":0.685},{"series":"CMPe1a low","year":2023,"value":0.675},{"series":"CMPe1a low","year":2024,"value":0.64},{"series":"CMPe1a low","year":2025,"value":0.63},{"series":"CMPe1a low","year":2026,"value":0.665},{"series":"CMPe1a low","year":2027,"value":0.68},{"series":"CMPe1a low","year":2028,"value":0.72},{"series":"CMPe1a low","year":2029,"value":0.70},{"series":"CMPe1a low","year":2030,"value":0.64},
{"series":"CMPc1a","year":2010,"value":0.99},{"series":"CMPc1a","year":2011,"value":1.03},{"series":"CMPc1a","year":2012,"value":1.03},{"series":"CMPc1a","year":2013,"value":1.00},{"series":"CMPc1a","year":2014,"value":0.97},{"series":"CMPc1a","year":2015,"value":0.97},{"series":"CMPc1a","year":2016,"value":1.00},{"series":"CMPc1a","year":2017,"value":1.10},{"series":"CMPc1a","year":2018,"value":1.14},{"series":"CMPc1a","year":2019,"value":1.17},{"series":"CMPc1a","year":2020,"value":1.17},{"series":"CMPc1a","year":2021,"value":1.16},{"series":"CMPc1a","year":2022,"value":1.17},{"series":"CMPc1a","year":2023,"value":1.18},{"series":"CMPc1a","year":2024,"value":1.18},{"series":"CMPc1a","year":2025,"value":1.19},{"series":"CMPc1a","year":2026,"value":1.17},{"series":"CMPc1a","year":2027,"value":1.15},{"series":"CMPc1a","year":2028,"value":1.15},{"series":"CMPc1a","year":2029,"value":1.16},{"series":"CMPc1a","year":2030,"value":1.18},
{"series":"CMPe1a","year":2003,"value":1.98},{"series":"CMPe1a","year":2004,"value":1.70},{"series":"CMPe1a","year":2005,"value":1.44},{"series":"CMPe1a","year":2006,"value":1.22},{"series":"CMPe1a","year":2007,"value":1.09},{"series":"CMPe1a","year":2008,"value":1.00},{"series":"CMPe1a","year":2009,"value":0.97},{"series":"CMPe1a","year":2010,"value":0.99},{"series":"CMPe1a","year":2011,"value":1.035},{"series":"CMPe1a","year":2012,"value":1.03},{"series":"CMPe1a","year":2013,"value":1.00},{"series":"CMPe1a","year":2014,"value":0.97},{"series":"CMPe1a","year":2015,"value":0.965},{"series":"CMPe1a","year":2016,"value":1.00},{"series":"CMPe1a","year":2017,"value":1.11},{"series":"CMPe1a","year":2018,"value":1.15},{"series":"CMPe1a","year":2019,"value":1.20},{"series":"CMPe1a","year":2020,"value":1.20},{"series":"CMPe1a","year":2021,"value":1.26},{"series":"CMPe1a","year":2022,"value":1.27},{"series":"CMPe1a","year":2023,"value":1.285},{"series":"CMPe1a","year":2024,"value":1.305},{"series":"CMPe1a","year":2025,"value":1.29},{"series":"CMPe1a","year":2026,"value":1.29},{"series":"CMPe1a","year":2027,"value":1.285},{"series":"CMPe1a","year":2028,"value":1.30},{"series":"CMPe1a","year":2029,"value":1.32},{"series":"CMPe1a","year":2030,"value":1.35}
]
},
"bounds": "flush",
"align": "each",
"columns": 3,
"spacing": {"row": 127, "column": 100},
"resolve": {"scale": {"x": "independent", "y": "independent", "color": "independent", "stroke": "independent", "fill": "independent", "shape": "independent", "strokeDash": "independent"}},
"concat": [
 {"width": 90, "height": 242, "data": {"values": [{"label": "RS1"}]}, "mark": {"type": "text", "align": "left", "baseline": "middle", "fontSize": 40, "font": "Lato", "color": "#000000", "dx": -42, "dy": -24}, "encoding": {"text": {"field": "label", "type": "nominal"}}},
 {"width": 440, "height": 238, "data": {"name": "tac_rs1"},
  "title": {"text": "TAC", "anchor": "middle", "dx": -14, "offset": 18},
  "resolve": {"scale": {"shape": "independent", "fill": "independent", "stroke": "independent"}},
  "layer": [
   {"mark": {"type": "line", "strokeWidth": 1.5, "clip": true},
    "encoding": {
     "x": {"field": "year", "type": "quantitative", "scale": {"domain": [2000, 2030], "nice": false, "zero": false}, "axis": {"values": [2000, 2005, 2010, 2015, 2020, 2025, 2030], "tickCount": 12, "format": "d", "title": null, "labelOverlap": false, "labelFlush": false}},
     "y": {"field": "value", "type": "quantitative", "scale": {"domain": [0, 180], "nice": false}, "axis": {"values": [0, 20, 40, 60, 80, 100, 120, 140, 160, 180], "tickCount": 12, "title": "Catch ('000t)", "labelPadding": 14, "labelOverlap": false, "labelFlush": false}},
     "color": {"field": "series", "type": "nominal", "scale": {"domain": ["C=0","CMPc1a","CMPe1a","CMPe2a","C=0 low","CMPc1a low","CMPe1a low","CMPe2a low"], "range": ["#9BBB59","#A899CB","#86C6D6","#9E2F34","#9BBB59","#76679A","#3E9EB2","#9E2F34"]}, "legend": null},
     "strokeDash": {"field": "series", "type": "nominal", "scale": {"domain": ["C=0","CMPc1a","CMPe1a","CMPe2a","C=0 low","CMPc1a low","CMPe1a low","CMPe2a low"], "range": [[1,0],[1,0],[1,0],[1,0],[4,3],[4,3],[4,3],[4,3]]}, "legend": null}
    }},
   {"mark": {"type": "point", "size": 30, "strokeWidth": 1.2, "opacity": 1, "clip": true},
    "encoding": {
     "x": {"field": "year", "type": "quantitative"},
     "y": {"field": "value", "type": "quantitative"},
     "shape": {"field": "series", "type": "nominal", "scale": {"domain": ["C=0","CMPc1a","CMPe1a","CMPe2a","C=0 low","CMPc1a low","CMPe1a low","CMPe2a low"], "range": ["triangle-up","M-1,-1L1,1M-1,1L1,-1","M-1,-1L1,1M-1,1L1,-1M0,-1.3V1.3","square","triangle-up","M-1,-1L1,1M-1,1L1,-1","M-1,-1L1,1M-1,1L1,-1M0,-1.3V1.3","square"]}, "legend": null},
     "fill": {"field": "series", "type": "nominal", "scale": {"domain": ["C=0","CMPc1a","CMPe1a","CMPe2a","C=0 low","CMPc1a low","CMPe1a low","CMPe2a low"], "range": ["#9BBB59","#A899CB","#86C6D6","#9E2F34","#ffffff","#76679A","#3E9EB2","#9E2F34"]}, "legend": null},
     "stroke": {"field": "series", "type": "nominal", "scale": {"domain": ["C=0","CMPc1a","CMPe1a","CMPe2a","C=0 low","CMPc1a low","CMPe1a low","CMPe2a low"], "range": ["#9BBB59","#A899CB","#86C6D6","#9E2F34","#9BBB59","#76679A","#3E9EB2","#9E2F34"]}, "legend": null}
    }},
   {"transform": [{"filter": {"field": "series", "oneOf": ["C=0","CMPc1a","CMPe1a","CMPe2a"]}}],
    "mark": {"type": "point", "size": 30, "opacity": 0, "clip": true},
    "encoding": {
     "x": {"field": "year", "type": "quantitative"},
     "y": {"field": "value", "type": "quantitative"},
     "shape": {"field": "series", "type": "nominal", "scale": {"domain": ["C=0","CMPc1a","CMPe1a","CMPe2a"], "range": ["M-1,0H5M1.35,0.45L2,-0.65L2.65,0.45Z","M-1,0H5M1.45,-0.55L2.55,0.55M1.45,0.55L2.55,-0.55","M-1,0H5M1.45,-0.55L2.55,0.55M1.45,0.55L2.55,-0.55M2,-0.7V0.7","M-1,0H5M1.5,-0.5H2.5V0.5H1.5Z"]}, "legend": {"orient": "none", "legendX": 5, "legendY": 145, "title": null, "rowPadding": 10}},
     "fill": {"field": "series", "type": "nominal", "scale": {"domain": ["C=0","CMPc1a","CMPe1a","CMPe2a"], "range": ["#9BBB59","transparent","transparent","#9E2F34"]}, "legend": {"orient": "none", "legendX": 5, "legendY": 145, "title": null, "rowPadding": 10}},
     "stroke": {"field": "series", "type": "nominal", "scale": {"domain": ["C=0","CMPc1a","CMPe1a","CMPe2a"], "range": ["#9BBB59","#A899CB","#86C6D6","#9E2F34"]}, "legend": {"orient": "none", "legendX": 5, "legendY": 145, "title": null, "rowPadding": 10}}
    }}
  ]},
 {"width": 440, "height": 238, "data": {"name": "bsp_rs1"},
  "title": {"text": "M. paradoxus", "fontStyle": "italic", "fontSize": 38, "anchor": "middle", "dx": -19, "offset": 11},
  "resolve": {"scale": {"shape": "independent", "fill": "independent", "stroke": "independent"}},
  "layer": [
   {"mark": {"type": "line", "strokeWidth": 1.5, "clip": true},
    "encoding": {
     "x": {"field": "year", "type": "quantitative", "scale": {"domain": [2000, 2030], "nice": false, "zero": false}, "axis": {"values": [2000, 2005, 2010, 2015, 2020, 2025, 2030], "tickCount": 12, "format": "d", "title": null, "labelOverlap": false, "labelFlush": false}},
     "y": {"field": "value", "type": "quantitative", "scale": {"domain": [0, 2], "nice": false}, "axis": {"values": [0, 0.2, 0.4, 0.6, 0.8, 1, 1.2, 1.4, 1.6, 1.8, 2], "tickCount": 12, "format": ".1f", "title": "Bˢᵖᵧ/Bˢᵖ₂₀₁₀", "titleFontStyle": "italic", "titleFontSize": 15, "titlePadding": 12, "labelPadding": 7, "labelOverlap": false, "labelFlush": false}},
     "color": {"field": "series", "type": "nominal", "scale": {"domain": ["C=0","CMPc1a","CMPe1a","CMPe2a","C=0 low","CMPc1a low","CMPe1a low","CMPe2a low"], "range": ["#9BBB59","#A899CB","#86C6D6","#9E2F34","#9BBB59","#76679A","#3E9EB2","#9E2F34"]}, "legend": null},
     "strokeDash": {"field": "series", "type": "nominal", "scale": {"domain": ["C=0","CMPc1a","CMPe1a","CMPe2a","C=0 low","CMPc1a low","CMPe1a low","CMPe2a low"], "range": [[1,0],[1,0],[1,0],[1,0],[4,3],[4,3],[4,3],[4,3]]}, "legend": null}
    }},
   {"mark": {"type": "point", "size": 30, "strokeWidth": 1.2, "opacity": 1, "clip": true},
    "encoding": {
     "x": {"field": "year", "type": "quantitative"},
     "y": {"field": "value", "type": "quantitative"},
     "shape": {"field": "series", "type": "nominal", "scale": {"domain": ["C=0","CMPc1a","CMPe1a","CMPe2a","C=0 low","CMPc1a low","CMPe1a low","CMPe2a low"], "range": ["triangle-up","M-1,-1L1,1M-1,1L1,-1","M-1,-1L1,1M-1,1L1,-1M0,-1.3V1.3","square","triangle-up","M-1,-1L1,1M-1,1L1,-1","M-1,-1L1,1M-1,1L1,-1M0,-1.3V1.3","square"]}, "legend": null},
     "fill": {"field": "series", "type": "nominal", "scale": {"domain": ["C=0","CMPc1a","CMPe1a","CMPe2a","C=0 low","CMPc1a low","CMPe1a low","CMPe2a low"], "range": ["#9BBB59","#A899CB","#86C6D6","#9E2F34","#ffffff","#76679A","#3E9EB2","#9E2F34"]}, "legend": null},
     "stroke": {"field": "series", "type": "nominal", "scale": {"domain": ["C=0","CMPc1a","CMPe1a","CMPe2a","C=0 low","CMPc1a low","CMPe1a low","CMPe2a low"], "range": ["#9BBB59","#A899CB","#86C6D6","#9E2F34","#9BBB59","#76679A","#3E9EB2","#9E2F34"]}, "legend": null}
    }},
   {"transform": [{"filter": {"field": "series", "oneOf": ["C=0","CMPc1a","CMPe1a","CMPe2a"]}}],
    "mark": {"type": "point", "size": 30, "opacity": 0, "clip": true},
    "encoding": {
     "x": {"field": "year", "type": "quantitative"},
     "y": {"field": "value", "type": "quantitative"},
     "shape": {"field": "series", "type": "nominal", "scale": {"domain": ["C=0","CMPc1a","CMPe1a","CMPe2a"], "range": ["M-1,0H5M1.35,0.45L2,-0.65L2.65,0.45Z","M-1,0H5M1.45,-0.55L2.55,0.55M1.45,0.55L2.55,-0.55","M-1,0H5M1.45,-0.55L2.55,0.55M1.45,0.55L2.55,-0.55M2,-0.7V0.7","M-1,0H5M1.5,-0.5H2.5V0.5H1.5Z"]}, "legend": {"orient": "none", "legendX": 37, "legendY": -8, "title": null, "rowPadding": 12}},
     "fill": {"field": "series", "type": "nominal", "scale": {"domain": ["C=0","CMPc1a","CMPe1a","CMPe2a"], "range": ["#9BBB59","transparent","transparent","#9E2F34"]}, "legend": {"orient": "none", "legendX": 37, "legendY": -8, "title": null, "rowPadding": 12}},
     "stroke": {"field": "series", "type": "nominal", "scale": {"domain": ["C=0","CMPc1a","CMPe1a","CMPe2a"], "range": ["#9BBB59","#A899CB","#86C6D6","#9E2F34"]}, "legend": {"orient": "none", "legendX": 37, "legendY": -8, "title": null, "rowPadding": 12}}
    }}
  ]},
 {"width": 90, "height": 255, "data": {"values": [{"label": "Rob13"}]}, "mark": {"type": "text", "align": "left", "baseline": "middle", "fontSize": 40, "font": "Lato", "color": "#000000", "dx": -42, "dy": -34}, "encoding": {"text": {"field": "label", "type": "nominal"}}},
 {"width": 440, "height": 238, "data": {"name": "tac_r13"},
  "resolve": {"scale": {"shape": "independent", "fill": "independent", "stroke": "independent"}},
  "layer": [
   {"mark": {"type": "line", "strokeWidth": 1.5, "clip": true},
    "encoding": {
     "x": {"field": "year", "type": "quantitative", "scale": {"domain": [2000, 2030], "nice": false, "zero": false}, "axis": {"values": [2000, 2005, 2010, 2015, 2020, 2025, 2030], "tickCount": 12, "format": "d", "title": null, "labelOverlap": false, "labelFlush": false}},
     "y": {"field": "value", "type": "quantitative", "scale": {"domain": [0, 180], "nice": false}, "axis": {"values": [0, 20, 40, 60, 80, 100, 120, 140, 160, 180], "tickCount": 12, "title": "Catch ('000t)", "labelPadding": 14, "labelOverlap": false, "labelFlush": false}},
     "color": {"field": "series", "type": "nominal", "scale": {"domain": ["C=0","CMPc1a","CMPe1a","CMPe2a","C=0 low","CMPc1a low","CMPe1a low","CMPe2a low"], "range": ["#9BBB59","#A899CB","#86C6D6","#9E2F34","#9BBB59","#76679A","#3E9EB2","#9E2F34"]}, "legend": null},
     "strokeDash": {"field": "series", "type": "nominal", "scale": {"domain": ["C=0","CMPc1a","CMPe1a","CMPe2a","C=0 low","CMPc1a low","CMPe1a low","CMPe2a low"], "range": [[1,0],[1,0],[1,0],[1,0],[4,3],[4,3],[4,3],[4,3]]}, "legend": null}
    }},
   {"mark": {"type": "point", "size": 30, "strokeWidth": 1.2, "opacity": 1, "clip": true},
    "encoding": {
     "x": {"field": "year", "type": "quantitative"},
     "y": {"field": "value", "type": "quantitative"},
     "shape": {"field": "series", "type": "nominal", "scale": {"domain": ["C=0","CMPc1a","CMPe1a","CMPe2a","C=0 low","CMPc1a low","CMPe1a low","CMPe2a low"], "range": ["triangle-up","M-1,-1L1,1M-1,1L1,-1","M-1,-1L1,1M-1,1L1,-1M0,-1.3V1.3","square","triangle-up","M-1,-1L1,1M-1,1L1,-1","M-1,-1L1,1M-1,1L1,-1M0,-1.3V1.3","square"]}, "legend": null},
     "fill": {"field": "series", "type": "nominal", "scale": {"domain": ["C=0","CMPc1a","CMPe1a","CMPe2a","C=0 low","CMPc1a low","CMPe1a low","CMPe2a low"], "range": ["#9BBB59","#A899CB","#86C6D6","#9E2F34","#ffffff","#76679A","#3E9EB2","#9E2F34"]}, "legend": null},
     "stroke": {"field": "series", "type": "nominal", "scale": {"domain": ["C=0","CMPc1a","CMPe1a","CMPe2a","C=0 low","CMPc1a low","CMPe1a low","CMPe2a low"], "range": ["#9BBB59","#A899CB","#86C6D6","#9E2F34","#9BBB59","#76679A","#3E9EB2","#9E2F34"]}, "legend": null}
    }},
   {"transform": [{"filter": {"field": "series", "oneOf": ["C=0","CMPc1a","CMPe1a","CMPe2a"]}}],
    "mark": {"type": "point", "size": 30, "opacity": 0, "clip": true},
    "encoding": {
     "x": {"field": "year", "type": "quantitative"},
     "y": {"field": "value", "type": "quantitative"},
     "shape": {"field": "series", "type": "nominal", "scale": {"domain": ["C=0","CMPc1a","CMPe1a","CMPe2a"], "range": ["M-1,0H5M1.35,0.45L2,-0.65L2.65,0.45Z","M-1,0H5M1.45,-0.55L2.55,0.55M1.45,0.55L2.55,-0.55","M-1,0H5M1.45,-0.55L2.55,0.55M1.45,0.55L2.55,-0.55M2,-0.7V0.7","M-1,0H5M1.5,-0.5H2.5V0.5H1.5Z"]}, "legend": {"orient": "none", "legendX": -1, "legendY": 144, "title": null, "rowPadding": 10}},
     "fill": {"field": "series", "type": "nominal", "scale": {"domain": ["C=0","CMPc1a","CMPe1a","CMPe2a"], "range": ["#9BBB59","transparent","transparent","#9E2F34"]}, "legend": {"orient": "none", "legendX": -1, "legendY": 144, "title": null, "rowPadding": 10}},
     "stroke": {"field": "series", "type": "nominal", "scale": {"domain": ["C=0","CMPc1a","CMPe1a","CMPe2a"], "range": ["#9BBB59","#A899CB","#86C6D6","#9E2F34"]}, "legend": {"orient": "none", "legendX": -1, "legendY": 144, "title": null, "rowPadding": 10}}
    }}
  ]},
 {"width": 440, "height": 238, "data": {"name": "bsp_r13"},
  "resolve": {"scale": {"shape": "independent", "fill": "independent", "stroke": "independent"}},
  "layer": [
   {"mark": {"type": "line", "strokeWidth": 1.5, "clip": true},
    "encoding": {
     "x": {"field": "year", "type": "quantitative", "scale": {"domain": [2000, 2030], "nice": false, "zero": false}, "axis": {"values": [2000, 2005, 2010, 2015, 2020, 2025, 2030], "tickCount": 12, "format": "d", "title": null, "labelOverlap": false, "labelFlush": false}},
     "y": {"field": "value", "type": "quantitative", "scale": {"domain": [0, 2], "nice": false}, "axis": {"values": [0, 0.2, 0.4, 0.6, 0.8, 1, 1.2, 1.4, 1.6, 1.8, 2], "tickCount": 12, "format": ".1f", "title": "Bˢᵖᵧ/Bˢᵖ₂₀₁₀", "titleFontStyle": "italic", "titleFontSize": 15, "titlePadding": 12, "labelPadding": 7, "labelOverlap": false, "labelFlush": false}},
     "color": {"field": "series", "type": "nominal", "scale": {"domain": ["C=0","CMPc1a","CMPe1a","CMPe2a","C=0 low","CMPc1a low","CMPe1a low","CMPe2a low"], "range": ["#9BBB59","#A899CB","#86C6D6","#9E2F34","#9BBB59","#76679A","#3E9EB2","#9E2F34"]}, "legend": null},
     "strokeDash": {"field": "series", "type": "nominal", "scale": {"domain": ["C=0","CMPc1a","CMPe1a","CMPe2a","C=0 low","CMPc1a low","CMPe1a low","CMPe2a low"], "range": [[1,0],[1,0],[1,0],[1,0],[4,3],[4,3],[4,3],[4,3]]}, "legend": null}
    }},
   {"mark": {"type": "point", "size": 30, "strokeWidth": 1.2, "opacity": 1, "clip": true},
    "encoding": {
     "x": {"field": "year", "type": "quantitative"},
     "y": {"field": "value", "type": "quantitative"},
     "shape": {"field": "series", "type": "nominal", "scale": {"domain": ["C=0","CMPc1a","CMPe1a","CMPe2a","C=0 low","CMPc1a low","CMPe1a low","CMPe2a low"], "range": ["triangle-up","M-1,-1L1,1M-1,1L1,-1","M-1,-1L1,1M-1,1L1,-1M0,-1.3V1.3","square","triangle-up","M-1,-1L1,1M-1,1L1,-1","M-1,-1L1,1M-1,1L1,-1M0,-1.3V1.3","square"]}, "legend": null},
     "fill": {"field": "series", "type": "nominal", "scale": {"domain": ["C=0","CMPc1a","CMPe1a","CMPe2a","C=0 low","CMPc1a low","CMPe1a low","CMPe2a low"], "range": ["#9BBB59","#A899CB","#86C6D6","#9E2F34","#ffffff","#76679A","#3E9EB2","#9E2F34"]}, "legend": null},
     "stroke": {"field": "series", "type": "nominal", "scale": {"domain": ["C=0","CMPc1a","CMPe1a","CMPe2a","C=0 low","CMPc1a low","CMPe1a low","CMPe2a low"], "range": ["#9BBB59","#A899CB","#86C6D6","#9E2F34","#9BBB59","#76679A","#3E9EB2","#9E2F34"]}, "legend": null}
    }},
   {"transform": [{"filter": {"field": "series", "oneOf": ["C=0","CMPc1a","CMPe1a","CMPe2a"]}}],
    "mark": {"type": "point", "size": 30, "opacity": 0, "clip": true},
    "encoding": {
     "x": {"field": "year", "type": "quantitative"},
     "y": {"field": "value", "type": "quantitative"},
     "shape": {"field": "series", "type": "nominal", "scale": {"domain": ["C=0","CMPc1a","CMPe1a","CMPe2a"], "range": ["M-1,0H5M1.35,0.45L2,-0.65L2.65,0.45Z","M-1,0H5M1.45,-0.55L2.55,0.55M1.45,0.55L2.55,-0.55","M-1,0H5M1.45,-0.55L2.55,0.55M1.45,0.55L2.55,-0.55M2,-0.7V0.7","M-1,0H5M1.5,-0.5H2.5V0.5H1.5Z"]}, "legend": {"orient": "none", "legendX": 11, "legendY": 127, "title": null, "rowPadding": 12}},
     "fill": {"field": "series", "type": "nominal", "scale": {"domain": ["C=0","CMPc1a","CMPe1a","CMPe2a"], "range": ["#9BBB59","transparent","transparent","#9E2F34"]}, "legend": {"orient": "none", "legendX": 11, "legendY": 127, "title": null, "rowPadding": 12}},
     "stroke": {"field": "series", "type": "nominal", "scale": {"domain": ["C=0","CMPc1a","CMPe1a","CMPe2a"], "range": ["#9BBB59","#A899CB","#86C6D6","#9E2F34"]}, "legend": {"orient": "none", "legendX": 11, "legendY": 127, "title": null, "rowPadding": 12}}
    }}
  ]},
 {"width": 90, "height": 238, "data": {"values": [{"label": "Rob17"}]}, "mark": {"type": "text", "align": "left", "baseline": "middle", "fontSize": 40, "font": "Lato", "color": "#000000", "dx": -42, "dy": 27}, "encoding": {"text": {"field": "label", "type": "nominal"}}},
 {"width": 440, "height": 238, "data": {"name": "tac_r17"},
  "resolve": {"scale": {"shape": "independent", "fill": "independent", "stroke": "independent"}},
  "layer": [
   {"mark": {"type": "line", "strokeWidth": 1.5, "clip": true},
    "encoding": {
     "x": {"field": "year", "type": "quantitative", "scale": {"domain": [2000, 2030], "nice": false, "zero": false}, "axis": {"values": [2000, 2005, 2010, 2015, 2020, 2025, 2030], "tickCount": 12, "format": "d", "title": null, "labelOverlap": false, "labelFlush": false}},
     "y": {"field": "value", "type": "quantitative", "scale": {"domain": [0, 180], "nice": false}, "axis": {"values": [0, 20, 40, 60, 80, 100, 120, 140, 160, 180], "tickCount": 12, "title": "Catch ('000t)", "labelPadding": 14, "labelOverlap": false, "labelFlush": false}},
     "color": {"field": "series", "type": "nominal", "scale": {"domain": ["C=0","CMPc1a","CMPe1a","CMPe2a","C=0 low","CMPc1a low","CMPe1a low","CMPe2a low"], "range": ["#9BBB59","#A899CB","#86C6D6","#9E2F34","#9BBB59","#76679A","#3E9EB2","#9E2F34"]}, "legend": null},
     "strokeDash": {"field": "series", "type": "nominal", "scale": {"domain": ["C=0","CMPc1a","CMPe1a","CMPe2a","C=0 low","CMPc1a low","CMPe1a low","CMPe2a low"], "range": [[1,0],[1,0],[1,0],[1,0],[4,3],[4,3],[4,3],[4,3]]}, "legend": null}
    }},
   {"mark": {"type": "point", "size": 30, "strokeWidth": 1.2, "opacity": 1, "clip": true},
    "encoding": {
     "x": {"field": "year", "type": "quantitative"},
     "y": {"field": "value", "type": "quantitative"},
     "shape": {"field": "series", "type": "nominal", "scale": {"domain": ["C=0","CMPc1a","CMPe1a","CMPe2a","C=0 low","CMPc1a low","CMPe1a low","CMPe2a low"], "range": ["triangle-up","M-1,-1L1,1M-1,1L1,-1","M-1,-1L1,1M-1,1L1,-1M0,-1.3V1.3","square","triangle-up","M-1,-1L1,1M-1,1L1,-1","M-1,-1L1,1M-1,1L1,-1M0,-1.3V1.3","square"]}, "legend": null},
     "fill": {"field": "series", "type": "nominal", "scale": {"domain": ["C=0","CMPc1a","CMPe1a","CMPe2a","C=0 low","CMPc1a low","CMPe1a low","CMPe2a low"], "range": ["#9BBB59","#A899CB","#86C6D6","#9E2F34","#ffffff","#76679A","#3E9EB2","#9E2F34"]}, "legend": null},
     "stroke": {"field": "series", "type": "nominal", "scale": {"domain": ["C=0","CMPc1a","CMPe1a","CMPe2a","C=0 low","CMPc1a low","CMPe1a low","CMPe2a low"], "range": ["#9BBB59","#A899CB","#86C6D6","#9E2F34","#9BBB59","#76679A","#3E9EB2","#9E2F34"]}, "legend": null}
    }},
   {"transform": [{"filter": {"field": "series", "oneOf": ["C=0","CMPc1a","CMPe1a"]}}],
    "mark": {"type": "point", "size": 30, "opacity": 0, "clip": true},
    "encoding": {
     "x": {"field": "year", "type": "quantitative"},
     "y": {"field": "value", "type": "quantitative"},
     "shape": {"field": "series", "type": "nominal", "scale": {"domain": ["C=0","CMPc1a","CMPe1a"], "range": ["M-1,0H5M1.35,0.45L2,-0.65L2.65,0.45Z","M-1,0H5M1.45,-0.55L2.55,0.55M1.45,0.55L2.55,-0.55","M-1,0H5M1.45,-0.55L2.55,0.55M1.45,0.55L2.55,-0.55M2,-0.7V0.7"]}, "legend": {"orient": "none", "legendX": -1, "legendY": 148, "title": null, "rowPadding": 18}},
     "fill": {"field": "series", "type": "nominal", "scale": {"domain": ["C=0","CMPc1a","CMPe1a"], "range": ["#9BBB59","transparent","transparent"]}, "legend": {"orient": "none", "legendX": -1, "legendY": 148, "title": null, "rowPadding": 18}},
     "stroke": {"field": "series", "type": "nominal", "scale": {"domain": ["C=0","CMPc1a","CMPe1a"], "range": ["#9BBB59","#A899CB","#86C6D6"]}, "legend": {"orient": "none", "legendX": -1, "legendY": 148, "title": null, "rowPadding": 18}}
    }}
  ]},
 {"width": 440, "height": 238, "data": {"name": "bsp_r17"},
  "resolve": {"scale": {"shape": "independent", "fill": "independent", "stroke": "independent"}},
  "layer": [
   {"mark": {"type": "line", "strokeWidth": 1.5, "clip": true},
    "encoding": {
     "x": {"field": "year", "type": "quantitative", "scale": {"domain": [2000, 2030], "nice": false, "zero": false}, "axis": {"values": [2000, 2005, 2010, 2015, 2020, 2025, 2030], "tickCount": 12, "format": "d", "title": null, "labelOverlap": false, "labelFlush": false}},
     "y": {"field": "value", "type": "quantitative", "scale": {"domain": [0, 2], "nice": false}, "axis": {"values": [0, 0.2, 0.4, 0.6, 0.8, 1, 1.2, 1.4, 1.6, 1.8, 2], "tickCount": 12, "format": ".1f", "title": "Bˢᵖᵧ/Bˢᵖ₂₀₁₀", "titleFontStyle": "italic", "titleFontSize": 15, "titlePadding": 12, "labelPadding": 7, "labelOverlap": false, "labelFlush": false}},
     "color": {"field": "series", "type": "nominal", "scale": {"domain": ["C=0","CMPc1a","CMPe1a","CMPe2a","C=0 low","CMPc1a low","CMPe1a low","CMPe2a low"], "range": ["#9BBB59","#A899CB","#86C6D6","#9E2F34","#9BBB59","#76679A","#3E9EB2","#9E2F34"]}, "legend": null},
     "strokeDash": {"field": "series", "type": "nominal", "scale": {"domain": ["C=0","CMPc1a","CMPe1a","CMPe2a","C=0 low","CMPc1a low","CMPe1a low","CMPe2a low"], "range": [[1,0],[1,0],[1,0],[1,0],[4,3],[4,3],[4,3],[4,3]]}, "legend": null}
    }},
   {"mark": {"type": "point", "size": 30, "strokeWidth": 1.2, "opacity": 1, "clip": true},
    "encoding": {
     "x": {"field": "year", "type": "quantitative"},
     "y": {"field": "value", "type": "quantitative"},
     "shape": {"field": "series", "type": "nominal", "scale": {"domain": ["C=0","CMPc1a","CMPe1a","CMPe2a","C=0 low","CMPc1a low","CMPe1a low","CMPe2a low"], "range": ["triangle-up","M-1,-1L1,1M-1,1L1,-1","M-1,-1L1,1M-1,1L1,-1M0,-1.3V1.3","square","triangle-up","M-1,-1L1,1M-1,1L1,-1","M-1,-1L1,1M-1,1L1,-1M0,-1.3V1.3","square"]}, "legend": null},
     "fill": {"field": "series", "type": "nominal", "scale": {"domain": ["C=0","CMPc1a","CMPe1a","CMPe2a","C=0 low","CMPc1a low","CMPe1a low","CMPe2a low"], "range": ["#9BBB59","#A899CB","#86C6D6","#9E2F34","#ffffff","#76679A","#3E9EB2","#9E2F34"]}, "legend": null},
     "stroke": {"field": "series", "type": "nominal", "scale": {"domain": ["C=0","CMPc1a","CMPe1a","CMPe2a","C=0 low","CMPc1a low","CMPe1a low","CMPe2a low"], "range": ["#9BBB59","#A899CB","#86C6D6","#9E2F34","#9BBB59","#76679A","#3E9EB2","#9E2F34"]}, "legend": null}
    }},
   {"transform": [{"filter": {"field": "series", "oneOf": ["C=0","CMPc1a","CMPe1a"]}}],
    "mark": {"type": "point", "size": 30, "opacity": 0, "clip": true},
    "encoding": {
     "x": {"field": "year", "type": "quantitative"},
     "y": {"field": "value", "type": "quantitative"},
     "shape": {"field": "series", "type": "nominal", "scale": {"domain": ["C=0","CMPc1a","CMPe1a"], "range": ["M-1,0H5M1.35,0.45L2,-0.65L2.65,0.45Z","M-1,0H5M1.45,-0.55L2.55,0.55M1.45,0.55L2.55,-0.55","M-1,0H5M1.45,-0.55L2.55,0.55M1.45,0.55L2.55,-0.55M2,-0.7V0.7"]}, "legend": {"orient": "none", "legendX": 9, "legendY": 132, "title": null, "rowPadding": 21}},
     "fill": {"field": "series", "type": "nominal", "scale": {"domain": ["C=0","CMPc1a","CMPe1a"], "range": ["#9BBB59","transparent","transparent"]}, "legend": {"orient": "none", "legendX": 9, "legendY": 132, "title": null, "rowPadding": 21}},
     "stroke": {"field": "series", "type": "nominal", "scale": {"domain": ["C=0","CMPc1a","CMPe1a"], "range": ["#9BBB59","#A899CB","#86C6D6"]}, "legend": {"orient": "none", "legendX": 9, "legendY": 132, "title": null, "rowPadding": 21}}
    }}
  ]},
 {"width": 90, "height": 238, "data": {"values": [{"label": "Rob25"}]}, "mark": {"type": "text", "align": "left", "baseline": "middle", "fontSize": 40, "font": "Lato", "color": "#000000", "dx": -42, "dy": 27}, "encoding": {"text": {"field": "label", "type": "nominal"}}},
 {"width": 440, "height": 238, "data": {"name": "tac_r17"},
  "resolve": {"scale": {"shape": "independent", "fill": "independent", "stroke": "independent"}},
  "layer": [
   {"mark": {"type": "line", "strokeWidth": 1.5, "clip": true},
    "encoding": {
     "x": {"field": "year", "type": "quantitative", "scale": {"domain": [2000, 2030], "nice": false, "zero": false}, "axis": {"values": [2000, 2005, 2010, 2015, 2020, 2025, 2030], "tickCount": 12, "format": "d", "title": null, "labelOverlap": false, "labelFlush": false}},
     "y": {"field": "value", "type": "quantitative", "scale": {"domain": [0, 180], "nice": false}, "axis": {"values": [0, 20, 40, 60, 80, 100, 120, 140, 160, 180], "tickCount": 12, "title": "Catch ('000t)", "labelPadding": 14, "labelOverlap": false, "labelFlush": false}},
     "color": {"field": "series", "type": "nominal", "scale": {"domain": ["C=0","CMPc1a","CMPe1a","CMPe2a","C=0 low","CMPc1a low","CMPe1a low","CMPe2a low"], "range": ["#9BBB59","#A899CB","#86C6D6","#9E2F34","#9BBB59","#76679A","#3E9EB2","#9E2F34"]}, "legend": null},
     "strokeDash": {"field": "series", "type": "nominal", "scale": {"domain": ["C=0","CMPc1a","CMPe1a","CMPe2a","C=0 low","CMPc1a low","CMPe1a low","CMPe2a low"], "range": [[1,0],[1,0],[1,0],[1,0],[4,3],[4,3],[4,3],[4,3]]}, "legend": null}
    }},
   {"mark": {"type": "point", "size": 30, "strokeWidth": 1.2, "opacity": 1, "clip": true},
    "encoding": {
     "x": {"field": "year", "type": "quantitative"},
     "y": {"field": "value", "type": "quantitative"},
     "shape": {"field": "series", "type": "nominal", "scale": {"domain": ["C=0","CMPc1a","CMPe1a","CMPe2a","C=0 low","CMPc1a low","CMPe1a low","CMPe2a low"], "range": ["triangle-up","M-1,-1L1,1M-1,1L1,-1","M-1,-1L1,1M-1,1L1,-1M0,-1.3V1.3","square","triangle-up","M-1,-1L1,1M-1,1L1,-1","M-1,-1L1,1M-1,1L1,-1M0,-1.3V1.3","square"]}, "legend": null},
     "fill": {"field": "series", "type": "nominal", "scale": {"domain": ["C=0","CMPc1a","CMPe1a","CMPe2a","C=0 low","CMPc1a low","CMPe1a low","CMPe2a low"], "range": ["#9BBB59","#A899CB","#86C6D6","#9E2F34","#ffffff","#76679A","#3E9EB2","#9E2F34"]}, "legend": null},
     "stroke": {"field": "series", "type": "nominal", "scale": {"domain": ["C=0","CMPc1a","CMPe1a","CMPe2a","C=0 low","CMPc1a low","CMPe1a low","CMPe2a low"], "range": ["#9BBB59","#A899CB","#86C6D6","#9E2F34","#9BBB59","#76679A","#3E9EB2","#9E2F34"]}, "legend": null}
    }},
   {"transform": [{"filter": {"field": "series", "oneOf": ["C=0","CMPc1a","CMPe1a"]}}],
    "mark": {"type": "point", "size": 30, "opacity": 0, "clip": true},
    "encoding": {
     "x": {"field": "year", "type": "quantitative"},
     "y": {"field": "value", "type": "quantitative"},
     "shape": {"field": "series", "type": "nominal", "scale": {"domain": ["C=0","CMPc1a","CMPe1a"], "range": ["M-1,0H5M1.35,0.45L2,-0.65L2.65,0.45Z","M-1,0H5M1.45,-0.55L2.55,0.55M1.45,0.55L2.55,-0.55","M-1,0H5M1.45,-0.55L2.55,0.55M1.45,0.55L2.55,-0.55M2,-0.7V0.7"]}, "legend": {"orient": "none", "legendX": -4, "legendY": 148, "title": null, "rowPadding": 18}},
     "fill": {"field": "series", "type": "nominal", "scale": {"domain": ["C=0","CMPc1a","CMPe1a"], "range": ["#9BBB59","transparent","transparent"]}, "legend": {"orient": "none", "legendX": -4, "legendY": 148, "title": null, "rowPadding": 18}},
     "stroke": {"field": "series", "type": "nominal", "scale": {"domain": ["C=0","CMPc1a","CMPe1a"], "range": ["#9BBB59","#A899CB","#86C6D6"]}, "legend": {"orient": "none", "legendX": -4, "legendY": 148, "title": null, "rowPadding": 18}}
    }}
  ]},
 {"width": 440, "height": 238, "data": {"name": "bsp_r17"},
  "resolve": {"scale": {"shape": "independent", "fill": "independent", "stroke": "independent"}},
  "layer": [
   {"mark": {"type": "line", "strokeWidth": 1.5, "clip": true},
    "encoding": {
     "x": {"field": "year", "type": "quantitative", "scale": {"domain": [2000, 2030], "nice": false, "zero": false}, "axis": {"values": [2000, 2005, 2010, 2015, 2020, 2025, 2030], "tickCount": 12, "format": "d", "title": null, "labelOverlap": false, "labelFlush": false}},
     "y": {"field": "value", "type": "quantitative", "scale": {"domain": [0, 2], "nice": false}, "axis": {"values": [0, 0.2, 0.4, 0.6, 0.8, 1, 1.2, 1.4, 1.6, 1.8, 2], "tickCount": 12, "format": ".1f", "title": "Bˢᵖᵧ/Bˢᵖ₂₀₁₀", "titleFontStyle": "italic", "titleFontSize": 15, "titlePadding": 12, "labelPadding": 7, "labelOverlap": false, "labelFlush": false}},
     "color": {"field": "series", "type": "nominal", "scale": {"domain": ["C=0","CMPc1a","CMPe1a","CMPe2a","C=0 low","CMPc1a low","CMPe1a low","CMPe2a low"], "range": ["#9BBB59","#A899CB","#86C6D6","#9E2F34","#9BBB59","#76679A","#3E9EB2","#9E2F34"]}, "legend": null},
     "strokeDash": {"field": "series", "type": "nominal", "scale": {"domain": ["C=0","CMPc1a","CMPe1a","CMPe2a","C=0 low","CMPc1a low","CMPe1a low","CMPe2a low"], "range": [[1,0],[1,0],[1,0],[1,0],[4,3],[4,3],[4,3],[4,3]]}, "legend": null}
    }},
   {"mark": {"type": "point", "size": 30, "strokeWidth": 1.2, "opacity": 1, "clip": true},
    "encoding": {
     "x": {"field": "year", "type": "quantitative"},
     "y": {"field": "value", "type": "quantitative"},
     "shape": {"field": "series", "type": "nominal", "scale": {"domain": ["C=0","CMPc1a","CMPe1a","CMPe2a","C=0 low","CMPc1a low","CMPe1a low","CMPe2a low"], "range": ["triangle-up","M-1,-1L1,1M-1,1L1,-1","M-1,-1L1,1M-1,1L1,-1M0,-1.3V1.3","square","triangle-up","M-1,-1L1,1M-1,1L1,-1","M-1,-1L1,1M-1,1L1,-1M0,-1.3V1.3","square"]}, "legend": null},
     "fill": {"field": "series", "type": "nominal", "scale": {"domain": ["C=0","CMPc1a","CMPe1a","CMPe2a","C=0 low","CMPc1a low","CMPe1a low","CMPe2a low"], "range": ["#9BBB59","#A899CB","#86C6D6","#9E2F34","#ffffff","#76679A","#3E9EB2","#9E2F34"]}, "legend": null},
     "stroke": {"field": "series", "type": "nominal", "scale": {"domain": ["C=0","CMPc1a","CMPe1a","CMPe2a","C=0 low","CMPc1a low","CMPe1a low","CMPe2a low"], "range": ["#9BBB59","#A899CB","#86C6D6","#9E2F34","#9BBB59","#76679A","#3E9EB2","#9E2F34"]}, "legend": null}
    }},
   {"transform": [{"filter": {"field": "series", "oneOf": ["C=0","CMPc1a","CMPe1a"]}}],
    "mark": {"type": "point", "size": 30, "opacity": 0, "clip": true},
    "encoding": {
     "x": {"field": "year", "type": "quantitative"},
     "y": {"field": "value", "type": "quantitative"},
     "shape": {"field": "series", "type": "nominal", "scale": {"domain": ["C=0","CMPc1a","CMPe1a"], "range": ["M-1,0H5M1.35,0.45L2,-0.65L2.65,0.45Z","M-1,0H5M1.45,-0.55L2.55,0.55M1.45,0.55L2.55,-0.55","M-1,0H5M1.45,-0.55L2.55,0.55M1.45,0.55L2.55,-0.55M2,-0.7V0.7"]}, "legend": {"orient": "none", "legendX": 7, "legendY": 131, "title": null, "rowPadding": 21}},
     "fill": {"field": "series", "type": "nominal", "scale": {"domain": ["C=0","CMPc1a","CMPe1a"], "range": ["#9BBB59","transparent","transparent"]}, "legend": {"orient": "none", "legendX": 7, "legendY": 131, "title": null, "rowPadding": 21}},
     "stroke": {"field": "series", "type": "nominal", "scale": {"domain": ["C=0","CMPc1a","CMPe1a"], "range": ["#9BBB59","#A899CB","#86C6D6"]}, "legend": {"orient": "none", "legendX": 7, "legendY": 131, "title": null, "rowPadding": 21}}
    }}
  ]}
]
}
